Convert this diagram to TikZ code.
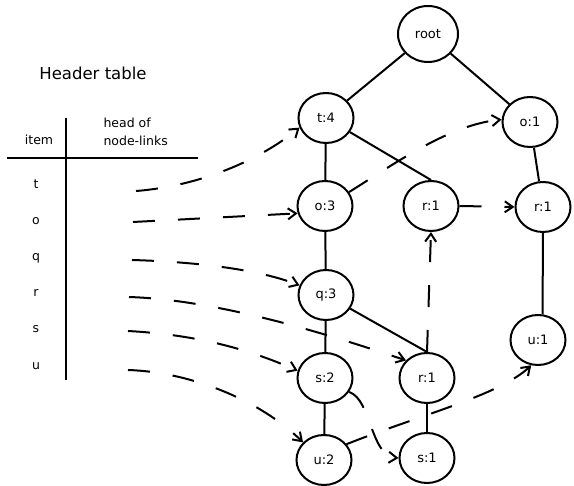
\documentclass[tikz,border=0pt]{standalone}
\usepackage{fontspec}
\setmainfont{DejaVu Sans}
\usetikzlibrary{shapes.geometric,arrows.meta}
\begin{document}
\begin{tikzpicture}[x=1pt,y=-1pt,
  nd/.style={draw,ellipse,line width=2pt,minimum width=55pt,minimum height=50pt,inner sep=0pt,font=\fontsize{13}{15}\selectfont},
  edge/.style={line width=2pt},
  link/.style={line width=2pt,dash pattern=on 22pt off 23pt,-{Straight Barb[length=8pt,width=11pt]}},
  lbl/.style={font=\fontsize{12.5}{18}\selectfont}]
\useasboundingbox (0,0) rectangle (574,486);
% header table
\node[font=\fontsize{16.5}{20}\selectfont] (title) at (93,73) {Header table};
\node[lbl] (item) at (39,140) {item};
\node[lbl,align=left,anchor=west] (head) at (100,132) {head of\\node-links};
\coordinate (vt) at (66,118);
\coordinate (vb) at (66,380);
\coordinate (hl) at (7,158);
\coordinate (hr) at (198,158);
\draw[edge] (vt) -- (vb);
\draw[edge] (hl) -- (hr);
\node[lbl] (it) at (36,184) {t};
\node[lbl] (io) at (36,221) {o};
\node[lbl] (iq) at (36,258) {q};
\node[lbl] (ir) at (36,293) {r};
\node[lbl] (is) at (36,329) {s};
\node[lbl] (iu) at (36,366) {u};
\coordinate (ht) at (136,191);
\coordinate (ho) at (133,222);
\coordinate (hq) at (132,260);
\coordinate (hrr) at (129,297);
\coordinate (hs) at (128,331);
\coordinate (hu) at (128,370);
% tree
\node[nd,minimum width=60pt,minimum height=56pt] (root) at (428,34) {root};
\node[nd] (t4) at (326,118) {t:4};
\node[nd] (o1) at (530,122) {o:1};
\node[nd] (o3) at (325,206) {o:3};
\node[nd] (r1m) at (431,206) {r:1};
\node[nd] (r1r) at (543,207) {r:1};
\node[nd] (q3) at (326,295) {q:3};
\node[nd] (u1) at (538,340) {u:1};
\node[nd] (s2) at (325,378) {s:2};
\node[nd] (r1l) at (427,378) {r:1};
\node[nd] (u2) at (324,460) {u:2};
\node[nd] (s1) at (427,458) {s:1};
% solid edges
\draw[edge] (root) -- (t4);
\draw[edge] (root) -- (o1);
\draw[edge] (t4) -- (o3);
\draw[edge] (t4) -- (r1m.north);
\draw[edge] (o1) -- (r1r);
\draw[edge] (r1r.south) -- (u1.80);
\draw[edge] (o3) -- (q3);
\draw[edge] (q3) -- (s2);
\draw[edge] (q3) -- (r1l.north);
\draw[edge] (s2) -- (u2);
\draw[edge] (r1l) -- (s1);
% node-links
\draw[link] (ht) .. controls (200,186) and (260,160) .. (t4.200);
\draw[link] (ho) -- (o3.195);
\draw[link] (hq) .. controls (200,262) and (260,270) .. (q3.160);
\draw[link] (hrr) .. controls (220,300) and (330,335) .. (r1l.140);
\draw[link] (hs) .. controls (200,335) and (250,350) .. (s2.165);
\draw[link] (hu) .. controls (190,372) and (260,400) .. (u2.140);
\draw[link] (o3.30) .. controls (400,160) and (450,125) .. (o1.175);
\draw[link] (r1m.east) -- (r1r.west);
\draw[link] (r1l.north) -- (r1m.south);
\draw[link] (s2.-30) .. controls (372,400) and (370,456) .. (s1.west);
\draw[link] (u2.35) .. controls (420,415) and (500,395) .. (u1.255);
\end{tikzpicture}
\end{document}
